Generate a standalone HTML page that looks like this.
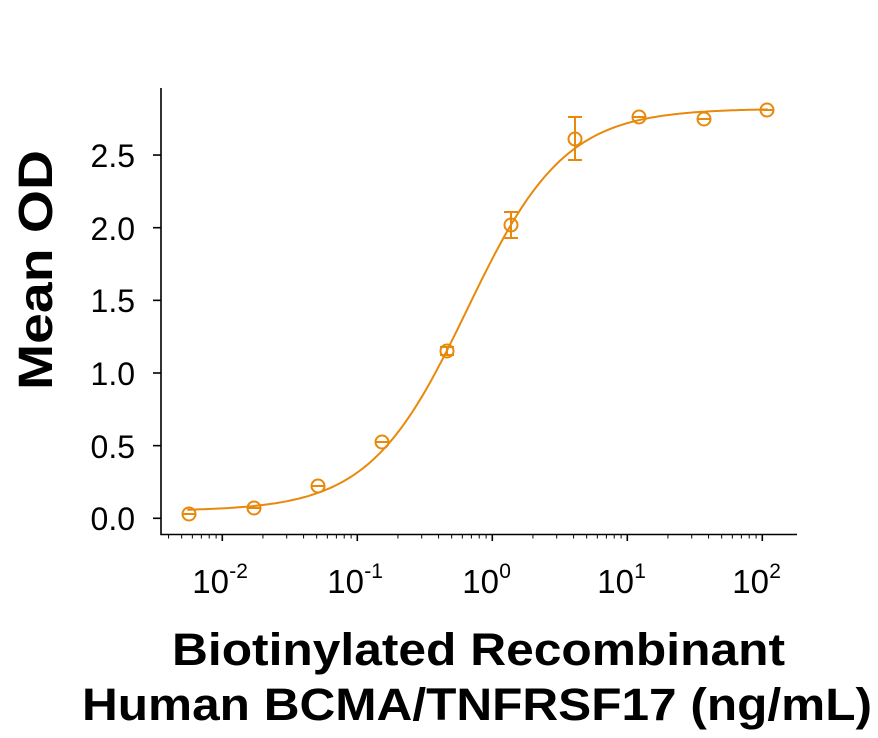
<!DOCTYPE html>
<html><head><meta charset="utf-8"><style>body{margin:0;background:#fff}svg{display:block}</style></head>
<body>
<svg id="s" width="878" height="738" xmlns="http://www.w3.org/2000/svg" font-family="Liberation Sans, Arial, sans-serif">
<g stroke="#000" stroke-width="1.6" fill="none">
<path d="M161 88 V534.5 H797"/>
<g id="yt"></g><g id="xt"></g>
</g>
<g font-size="32" text-anchor="end" fill="#000">
<text x="135" y="530">0.0</text>
<text x="135" y="458">0.5</text>
<text x="135" y="385">1.0</text>
<text x="135" y="312">1.5</text>
<text x="135" y="240">2.0</text>
<text x="135" y="167">2.5</text>
</g>
<g font-size="33" fill="#000" id="xl"></g>
<text transform="translate(52,270) rotate(-90)" text-anchor="middle" font-weight="bold" font-size="48" textLength="240" lengthAdjust="spacingAndGlyphs">Mean OD</text>
<text x="172" y="665" font-weight="bold" font-size="45" textLength="613" lengthAdjust="spacingAndGlyphs">Biotinylated Recombinant</text>
<text x="82" y="720" font-weight="bold" font-size="45" textLength="790" lengthAdjust="spacingAndGlyphs">Human BCMA/TNFRSF17 (ng/mL)</text>
<g stroke="#E8890C" stroke-width="2" fill="none" id="d">
<path id="curve"/>
</g>
</svg>
<script>
var ns="http://www.w3.org/2000/svg";
function el(p,t,a){var e=document.createElementNS(ns,t);for(var k in a)e.setAttribute(k,a[k]);p.appendChild(e);return e;}
var X=function(c){return 492.3+135*Math.log10(c)}, Y=function(v){return 518.3-145.3*v};
var yt=document.getElementById('yt');
for(var i=0;i<=5;i++){var y=518.3-72.65*i;el(yt,'line',{x1:153,x2:161,y1:y,y2:y});}
var xt=document.getElementById('xt');
for(var e=-3;e<=2;e++){for(var m=1;m<10;m++){var c=m*Math.pow(10,e);var x=X(c);if(x<163||x>797)continue;el(xt,'line',{x1:x,x2:x,y1:534.5,y2:m==1?541:538.5,'stroke-width':m==1?1.6:1});}}
var xl=document.getElementById('xl');
[-2,-1,0,1,2].forEach(function(e){var x=X(Math.pow(10,e));var t=el(xl,'text',{x:x-30,y:593});t.textContent='10';var s=el(xl,'text',{x:x+7,y:578,'font-size':21});s.textContent=String(e);});
var d='';for(var lx=Math.log10(0.0055);lx<=Math.log10(110);lx+=0.02){var c=Math.pow(10,lx);var v=0.05+2.77*Math.pow(c/0.65,1.2)/(1+Math.pow(c/0.65,1.2));d+=(d?'L':'M')+X(c).toFixed(1)+' '+Y(v).toFixed(1);}
document.getElementById('curve').setAttribute('d',d);
var g=document.getElementById('d');
var pts=[[189,514],[254,508],[318,486],[382,442],[447,351,347,355],[511,225,212,238],[575,139,117,160],[639,117],[704,119],[767,110]];
pts.forEach(function(p){el(g,'circle',{cx:p[0],cy:p[1],r:6.5});
if(p[2]){el(g,'line',{x1:p[0],x2:p[0],y1:p[2],y2:p[3]});el(g,'line',{x1:p[0]-7,x2:p[0]+7,y1:p[2],y2:p[2]});el(g,'line',{x1:p[0]-7,x2:p[0]+7,y1:p[3],y2:p[3]});}
else el(g,'line',{x1:p[0]-6,x2:p[0]+6,y1:p[1],y2:p[1]});});
</script>
</body></html>
